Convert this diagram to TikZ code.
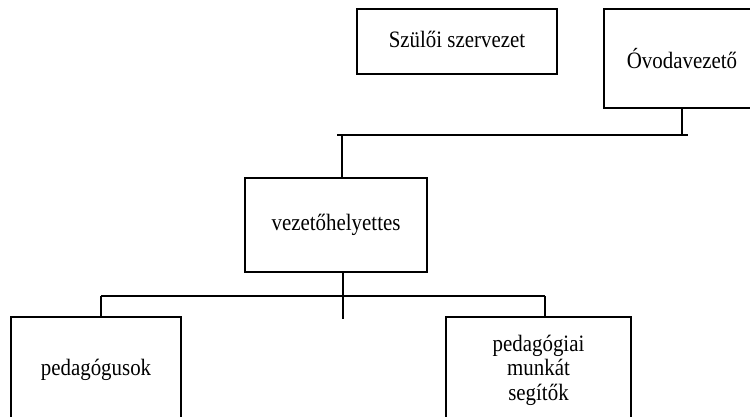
\documentclass[tikz,border=0pt]{standalone}
\usepackage{fontspec}
\setmainfont{Liberation Serif}[FakeStretch=0.89]
\usetikzlibrary{positioning}
\begin{document}
\begin{tikzpicture}[x=1pt,y=-1pt,
  box/.style={draw,line width=1.6pt,rectangle,align=center,inner sep=0pt,font=\fontsize{23.5}{24.5}\selectfont},
  conn/.style={line width=1.4pt}]
\useasboundingbox (0,0) rectangle (750,416);
\clip (0,0) rectangle (750,416);
% boxes
\node [box,minimum width=200pt,minimum height=65pt] (szulo) at (457,41.5) {\raisebox{5pt}{Szülői szervezet}};
\node [box,minimum width=156pt,minimum height=99pt] (ovoda) at (682,58.5) {Óvodavezető};
\node [box,minimum width=182pt,minimum height=94pt] (vezeto) at (336,225) {vezetőhelyettes};
\node [box,minimum width=170pt,minimum height=106pt] (ped) at (96,370) {pedagógusok};
\node [box,minimum width=185pt,minimum height=106pt] (segito) at (538.5,370) {pedagógiai\\munkát\\segítők};
% upper bus
\coordinate (ha) at (337,135);
\coordinate (hb) at (688,135);
\draw [conn] (ha) -- (hb);
\draw [conn] (ovoda.south) -- (ovoda.south |- hb);
\coordinate (vin) at ([xshift=6pt]vezeto.north);
\draw [conn] (vin) -- (vin |- ha);
% lower bus
\coordinate (vout) at ([xshift=7pt]vezeto.south);
\draw [conn] (vout) -- ++(0,46) coordinate (vend);
\coordinate (hl) at (101,296);
\coordinate (hr) at (545,296);
\draw [conn] (hl) -- (hr);
\draw [conn] (hl) -- (hl |- ped.north);
\draw [conn] (hr) -- (hr |- segito.north);
\end{tikzpicture}
\end{document}
